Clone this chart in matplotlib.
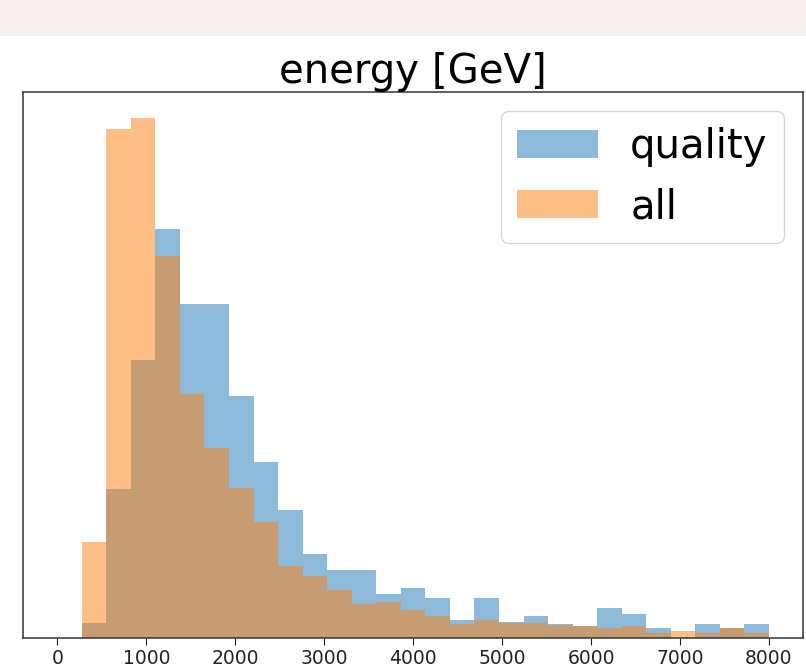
import numpy as np
import matplotlib
matplotlib.use("Agg")
import matplotlib.pyplot as plt
from matplotlib.patches import Rectangle

# bin edges of the energy histogram [GeV]
bin_lo = 275
bin_hi = 8000
n_bins = 28

# bar heights (arbitrary units, y axis has no ticks)
quality = [14.7, 148.7, 277.5, 408.0, 333.7, 333.7, 241.5, 175.3, 127.3, 83.7,
           67.0, 67.0, 43.0, 49.0, 39.0, 17.0, 39.0, 15.7, 21.0, 13.3,
           11.3, 29.0, 23.0, 9.0, 0.0, 13.7, 9.0, 13.7]
all_events = [95.3, 508.0, 519.7, 381.3, 243.7, 189.3, 149.7, 115.3, 71.3, 61.3,
              47.3, 33.0, 35.3, 27.3, 21.0, 13.3, 17.0, 14.0, 14.0, 12.0,
              11.3, 9.0, 11.0, 4.7, 6.0, 4.7, 9.0, 4.7]

x_ticks = [0, 1000, 2000, 3000, 4000, 5000, 6000, 7000, 8000]

edges = np.linspace(bin_lo, bin_hi, n_bins + 1)
centers = (edges[:-1] + edges[1:]) / 2

fig = plt.figure(figsize=(8.06, 6.67), dpi=100)
# light band at the top of the screenshot
fig.patches.append(Rectangle((0, 1 - 35.5 / 667), 1, 35.5 / 667,
                             transform=fig.transFigure, facecolor='#f7f0f0',
                             edgecolor='none', zorder=0))

ax = fig.add_axes([22.7 / 806, 29.5 / 667, 780.6 / 806, 545.8 / 667])
ax.hist(centers, bins=edges, weights=quality, alpha=0.5, color='tab:blue', label='quality')
ax.hist(centers, bins=edges, weights=all_events, alpha=0.5, color='tab:orange', label='all')

ax.set_xlim(-389, 8386)
ax.set_xticks(x_ticks)
ax.set_yticks([])
ax.tick_params(axis='x', labelsize=13.5, length=5, colors='#222222')
for s in ax.spines.values():
    s.set_linewidth(1.1)
    s.set_color('#333333')

ax.set_title('energy [GeV]', fontsize=29, pad=3)
ax.legend(fontsize=29, loc='upper right', borderaxespad=0.48)

fig.savefig('out.png', dpi=100)
